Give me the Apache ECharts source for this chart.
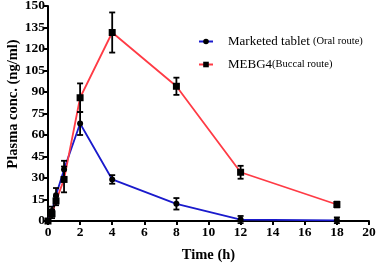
<!DOCTYPE html>
<html><head><meta charset="utf-8">
<script src="https://cdn.jsdelivr.net/npm/echarts@6/dist/echarts.min.js"></script>
<style>html,body{margin:0;padding:0;background:#fff}#c{width:378px;height:264px}</style>
</head><body><div id="c"></div>
<script>
const times = [0, 0.25, 0.5, 1, 2, 4, 8, 12, 18];
const oralMean = [0, 7, 18, 36, 68, 29, 12, 1, 0.5];
const oralErr  = [0, 3, 5, 6, 8, 3, 4, 2.5, 2];
const buccalMean = [0, 5, 14, 29, 86, 131.5, 94, 34, 11.5];
const buccalErr  = [0, 3, 3, 9, 10, 14, 6, 4.5, 2];
const xTicks = [0,2,4,6,8,10,12,14,16,18,20];
const yTicks = [0,15,30,45,60,75,90,105,120,135,150];
const yTitle = 'Plasma conc. (ng/ml)';
const xTitle = 'Time (h)';

const font = 'Liberation Serif';
function pts(m){ return times.map((t,i)=>[t,m[i]]); }
function errData(m,e){ return times.map((t,i)=>[t,m[i]-e[i],m[i]+e[i]]); }
function errRender(params, api){
  const x = api.value(0);
  const lo = api.coord([x, api.value(1)]);
  const hi = api.coord([x, api.value(2)]);
  const w = 3;
  const st = {stroke:'#000', lineWidth:1.8};
  return {type:'group', children:[
    {type:'line', shape:{x1:lo[0],y1:lo[1],x2:hi[0],y2:hi[1]}, style:st},
    {type:'line', shape:{x1:lo[0]-w,y1:lo[1],x2:lo[0]+w,y2:lo[1]}, style:st},
    {type:'line', shape:{x1:hi[0]-w,y1:hi[1],x2:hi[0]+w,y2:hi[1]}, style:st}
  ]};
}
const chart = echarts.init(document.getElementById('c'));
chart.setOption({
  animation:false,
  grid:{left:48, right:9, top:6, bottom:43, containLabel:false, outerBoundsMode:'none'},
  graphic:[{type:'text', x:13, y:104, rotation:Math.PI/2,
    style:{text:yTitle, fontFamily:font, fontWeight:'bold', fontSize:14.5, fill:'#000', align:'center', verticalAlign:'middle'}}],
  legend:{
    orient:'vertical', left:198, top:35, padding:0, itemWidth:14, itemHeight:7, itemGap:10,
    textStyle:{fontFamily:font, color:'#000', rich:{s:{width:10},a:{fontFamily:font,fontSize:13,color:'#000'},b:{fontFamily:font,fontSize:10.5,color:'#000'}}},
    data:['oral','buccal'],
    formatter:function(n){ return n==='oral' ? '{s|}{a|Marketed tablet} {b|(Oral route)}' : '{s|}{a|MEBG4}{b|(Buccal route)}'; }
  },
  xAxis:{
    type:'value', min:0, max:20, interval:2,
    name:xTitle, nameLocation:'middle', nameGap:27,
    nameTextStyle:{fontFamily:font, fontWeight:'bold', fontSize:14.5, color:'#000'},
    axisLine:{lineStyle:{color:'#000', width:2}},
    axisTick:{length:4, lineStyle:{color:'#000', width:2}},
    axisLabel:{fontFamily:font, fontWeight:'bold', fontSize:13.5, color:'#000', margin:5,
      formatter:v=>xTicks.includes(v)?String(v):''},
    splitLine:{show:false}
  },
  yAxis:{
    type:'value', min:0, max:150, interval:15,
    axisLine:{show:true, lineStyle:{color:'#000', width:2}},
    axisTick:{show:true, length:5, lineStyle:{color:'#000', width:2}},
    axisLabel:{fontFamily:font, fontWeight:'bold', fontSize:13.5, color:'#000', margin:3,
      formatter:v=>yTicks.includes(v)?String(v):''},
    splitLine:{show:false}
  },
  series:[
    {name:'oral', type:'line', data:pts(oralMean), symbol:'circle', symbolSize:6,
     lineStyle:{color:'#1a1acc', width:1.8}, itemStyle:{color:'#000'}, z:3},
    {name:'buccal', type:'line', data:pts(buccalMean), symbol:'rect', symbolSize:7,
     lineStyle:{color:'#ff3b45', width:1.8}, itemStyle:{color:'#000'}, z:3},
    {type:'custom', data:errData(oralMean,oralErr), renderItem:errRender, z:4, encode:{x:0,y:[1,2]}},
    {type:'custom', data:errData(buccalMean,buccalErr), renderItem:errRender, z:4, encode:{x:0,y:[1,2]}}
  ]
});
</script></body></html>
